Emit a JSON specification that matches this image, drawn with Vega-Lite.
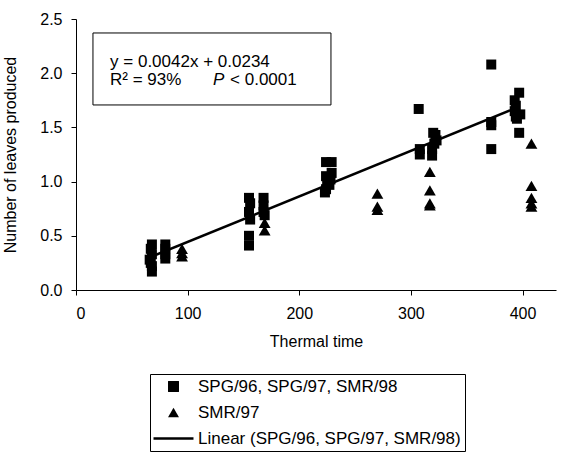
{
  "$schema": "https://vega.github.io/schema/vega-lite/v6.json",
  "width": 480,
  "height": 271,
  "autosize": {"type": "none"},
  "padding": {"left": 76, "top": 19, "right": 7, "bottom": 166},
  "background": "white",
  "config": {
    "view": {"stroke": null},
    "font": "Liberation Sans",
    "axis": {
      "grid": false,
      "domainColor": "black",
      "tickColor": "black",
      "labelColor": "black",
      "titleColor": "black",
      "labelFont": "Liberation Sans",
      "titleFont": "Liberation Sans",
      "labelFontSize": 16,
      "titleFontSize": 16,
      "titleFontWeight": "normal",
      "tickSize": 5
    },
    "legend": {
      "title": null, "orient": "none", "legendX": 74, "legendY": 355,
      "strokeColor": "black", "padding": 4, "labelFontSize": 17, "labelFont": "Liberation Sans", "labelColor": "black",
      "labelLimit": 0, "rowPadding": 8, "labelOffset": 16, "symbolOffset": 11, "symbolSize": 120,
      "symbolFillColor": "black"
    }
  },
  "datasets": {
    "obs": [
      {"t": 68, "leaves": 0.42, "series": "SPG/96, SPG/97, SMR/98"},
      {"t": 67, "leaves": 0.38, "series": "SPG/96, SPG/97, SMR/98"},
      {"t": 68, "leaves": 0.33, "series": "SPG/96, SPG/97, SMR/98"},
      {"t": 66, "leaves": 0.28, "series": "SPG/96, SPG/97, SMR/98"},
      {"t": 67, "leaves": 0.25, "series": "SPG/96, SPG/97, SMR/98"},
      {"t": 68, "leaves": 0.22, "series": "SPG/96, SPG/97, SMR/98"},
      {"t": 68, "leaves": 0.17, "series": "SPG/96, SPG/97, SMR/98"},
      {"t": 80, "leaves": 0.42, "series": "SPG/96, SPG/97, SMR/98"},
      {"t": 80, "leaves": 0.38, "series": "SPG/96, SPG/97, SMR/98"},
      {"t": 80, "leaves": 0.33, "series": "SPG/96, SPG/97, SMR/98"},
      {"t": 80, "leaves": 0.29, "series": "SPG/96, SPG/97, SMR/98"},
      {"t": 155, "leaves": 0.85, "series": "SPG/96, SPG/97, SMR/98"},
      {"t": 156, "leaves": 0.80, "series": "SPG/96, SPG/97, SMR/98"},
      {"t": 155, "leaves": 0.72, "series": "SPG/96, SPG/97, SMR/98"},
      {"t": 156, "leaves": 0.65, "series": "SPG/96, SPG/97, SMR/98"},
      {"t": 155, "leaves": 0.50, "series": "SPG/96, SPG/97, SMR/98"},
      {"t": 155, "leaves": 0.41, "series": "SPG/96, SPG/97, SMR/98"},
      {"t": 168, "leaves": 0.85, "series": "SPG/96, SPG/97, SMR/98"},
      {"t": 168, "leaves": 0.78, "series": "SPG/96, SPG/97, SMR/98"},
      {"t": 168, "leaves": 0.72, "series": "SPG/96, SPG/97, SMR/98"},
      {"t": 169, "leaves": 0.69, "series": "SPG/96, SPG/97, SMR/98"},
      {"t": 224, "leaves": 1.18, "series": "SPG/96, SPG/97, SMR/98"},
      {"t": 224, "leaves": 1.05, "series": "SPG/96, SPG/97, SMR/98"},
      {"t": 225, "leaves": 0.98, "series": "SPG/96, SPG/97, SMR/98"},
      {"t": 224, "leaves": 0.93, "series": "SPG/96, SPG/97, SMR/98"},
      {"t": 223, "leaves": 0.90, "series": "SPG/96, SPG/97, SMR/98"},
      {"t": 229, "leaves": 1.18, "series": "SPG/96, SPG/97, SMR/98"},
      {"t": 229, "leaves": 1.08, "series": "SPG/96, SPG/97, SMR/98"},
      {"t": 228, "leaves": 1.02, "series": "SPG/96, SPG/97, SMR/98"},
      {"t": 227, "leaves": 0.97, "series": "SPG/96, SPG/97, SMR/98"},
      {"t": 307, "leaves": 1.67, "series": "SPG/96, SPG/97, SMR/98"},
      {"t": 308, "leaves": 1.30, "series": "SPG/96, SPG/97, SMR/98"},
      {"t": 308, "leaves": 1.25, "series": "SPG/96, SPG/97, SMR/98"},
      {"t": 320, "leaves": 1.45, "series": "SPG/96, SPG/97, SMR/98"},
      {"t": 322, "leaves": 1.43, "series": "SPG/96, SPG/97, SMR/98"},
      {"t": 323, "leaves": 1.38, "series": "SPG/96, SPG/97, SMR/98"},
      {"t": 321, "leaves": 1.35, "series": "SPG/96, SPG/97, SMR/98"},
      {"t": 319, "leaves": 1.30, "series": "SPG/96, SPG/97, SMR/98"},
      {"t": 319, "leaves": 1.24, "series": "SPG/96, SPG/97, SMR/98"},
      {"t": 372, "leaves": 2.08, "series": "SPG/96, SPG/97, SMR/98"},
      {"t": 372, "leaves": 1.55, "series": "SPG/96, SPG/97, SMR/98"},
      {"t": 372, "leaves": 1.52, "series": "SPG/96, SPG/97, SMR/98"},
      {"t": 372, "leaves": 1.30, "series": "SPG/96, SPG/97, SMR/98"},
      {"t": 393, "leaves": 1.75, "series": "SPG/96, SPG/97, SMR/98"},
      {"t": 394, "leaves": 1.70, "series": "SPG/96, SPG/97, SMR/98"},
      {"t": 393, "leaves": 1.65, "series": "SPG/96, SPG/97, SMR/98"},
      {"t": 394, "leaves": 1.60, "series": "SPG/96, SPG/97, SMR/98"},
      {"t": 395, "leaves": 1.58, "series": "SPG/96, SPG/97, SMR/98"},
      {"t": 397, "leaves": 1.82, "series": "SPG/96, SPG/97, SMR/98"},
      {"t": 398, "leaves": 1.62, "series": "SPG/96, SPG/97, SMR/98"},
      {"t": 397, "leaves": 1.45, "series": "SPG/96, SPG/97, SMR/98"},
      {"t": 95, "leaves": 0.38, "series": "SMR/97"},
      {"t": 95, "leaves": 0.34, "series": "SMR/97"},
      {"t": 95, "leaves": 0.31, "series": "SMR/97"},
      {"t": 169, "leaves": 0.62, "series": "SMR/97"},
      {"t": 169, "leaves": 0.55, "series": "SMR/97"},
      {"t": 270, "leaves": 0.89, "series": "SMR/97"},
      {"t": 270, "leaves": 0.77, "series": "SMR/97"},
      {"t": 270, "leaves": 0.74, "series": "SMR/97"},
      {"t": 317, "leaves": 1.09, "series": "SMR/97"},
      {"t": 317, "leaves": 0.92, "series": "SMR/97"},
      {"t": 317, "leaves": 0.80, "series": "SMR/97"},
      {"t": 317, "leaves": 0.78, "series": "SMR/97"},
      {"t": 408, "leaves": 1.35, "series": "SMR/97"},
      {"t": 408, "leaves": 0.96, "series": "SMR/97"},
      {"t": 408, "leaves": 0.85, "series": "SMR/97"},
      {"t": 408, "leaves": 0.80, "series": "SMR/97"},
      {"t": 408, "leaves": 0.77, "series": "SMR/97"}
    ],
    "fit": [
      {"t": 68, "leaves": 0.309},
      {"t": 397, "leaves": 1.691}
    ]
  },
  "layer": [
    {
      "data": {"values": [{}]},
      "mark": {"type": "rect", "fill": "white", "stroke": "black", "strokeWidth": 1},
      "encoding": {
        "x": {"datum": 15.2, "type": "quantitative", "scale": {"domain": [0, 430]}},
        "x2": {"datum": 228.4},
        "y": {"datum": 2.371, "type": "quantitative", "scale": {"domain": [0, 2.5]}},
        "y2": {"datum": 1.707}
      }
    },
    {
      "data": {"values": [{}]},
      "mark": {"type": "text", "text": "y = 0.0042x + 0.0234", "align": "left", "baseline": "middle", "fontSize": 17, "font": "Liberation Sans", "color": "black"},
      "encoding": {
        "x": {"datum": 30.5, "type": "quantitative"},
        "y": {"datum": 2.099, "type": "quantitative"}
      }
    },
    {
      "data": {"values": [{}]},
      "mark": {"type": "text", "text": "R² = 93%", "align": "left", "baseline": "middle", "fontSize": 17, "font": "Liberation Sans", "color": "black"},
      "encoding": {
        "x": {"datum": 30.5, "type": "quantitative"},
        "y": {"datum": 1.937, "type": "quantitative"}
      }
    },
    {
      "data": {"values": [{}]},
      "mark": {"type": "text", "text": "P", "align": "left", "baseline": "middle", "fontSize": 17, "fontStyle": "italic", "font": "Liberation Sans", "color": "black"},
      "encoding": {
        "x": {"datum": 122.7, "type": "quantitative"},
        "y": {"datum": 1.937, "type": "quantitative"}
      }
    },
    {
      "data": {"values": [{}]},
      "mark": {"type": "text", "text": "<  0.0001", "align": "left", "baseline": "middle", "fontSize": 17, "font": "Liberation Sans", "color": "black"},
      "encoding": {
        "x": {"datum": 138, "type": "quantitative"},
        "y": {"datum": 1.937, "type": "quantitative"}
      }
    },
    {
      "data": {"name": "fit"},
      "mark": {"type": "line", "color": "black", "strokeWidth": 2.5},
      "encoding": {
        "x": {"field": "t", "type": "quantitative"},
        "y": {"field": "leaves", "type": "quantitative"}
      }
    },
    {
      "data": {"name": "obs"},
      "transform": [{"filter": "datum.series === 'SPG/96, SPG/97, SMR/98'"}],
      "mark": {"type": "point", "filled": true, "color": "black", "opacity": 1, "size": 100},
      "encoding": {
        "x": {
          "field": "t", "type": "quantitative",
          "scale": {"domain": [0, 430], "nice": false},
          "axis": {"values": [0, 100, 200, 300, 400], "title": "Thermal time", "labelPadding": 10, "titlePadding": 12}
        },
        "y": {
          "field": "leaves", "type": "quantitative",
          "scale": {"domain": [0, 2.5], "nice": false},
          "axis": {"values": [0, 0.5, 1, 1.5, 2, 2.5], "format": ".1f", "title": "Number of leaves produced", "labelPadding": 9, "titlePadding": 21}
        },
        "shape": {
          "field": "series", "type": "nominal",
          "scale": {"domain": ["SPG/96, SPG/97, SMR/98", "SMR/97", "Linear (SPG/96, SPG/97, SMR/98)"], "range": ["square", "triangle-up", "M-3.65,-0.23L3.65,-0.23L3.65,0.23L-3.65,0.23Z"]}
        }
      }
    },
    {
      "data": {"name": "obs"},
      "transform": [{"filter": "datum.series === 'SMR/97'"}],
      "mark": {"type": "point", "filled": true, "color": "black", "opacity": 1, "size": 140},
      "encoding": {
        "x": {"field": "t", "type": "quantitative"},
        "y": {"field": "leaves", "type": "quantitative"},
        "shape": {"field": "series", "type": "nominal"}
      }
    }
  ]
}
